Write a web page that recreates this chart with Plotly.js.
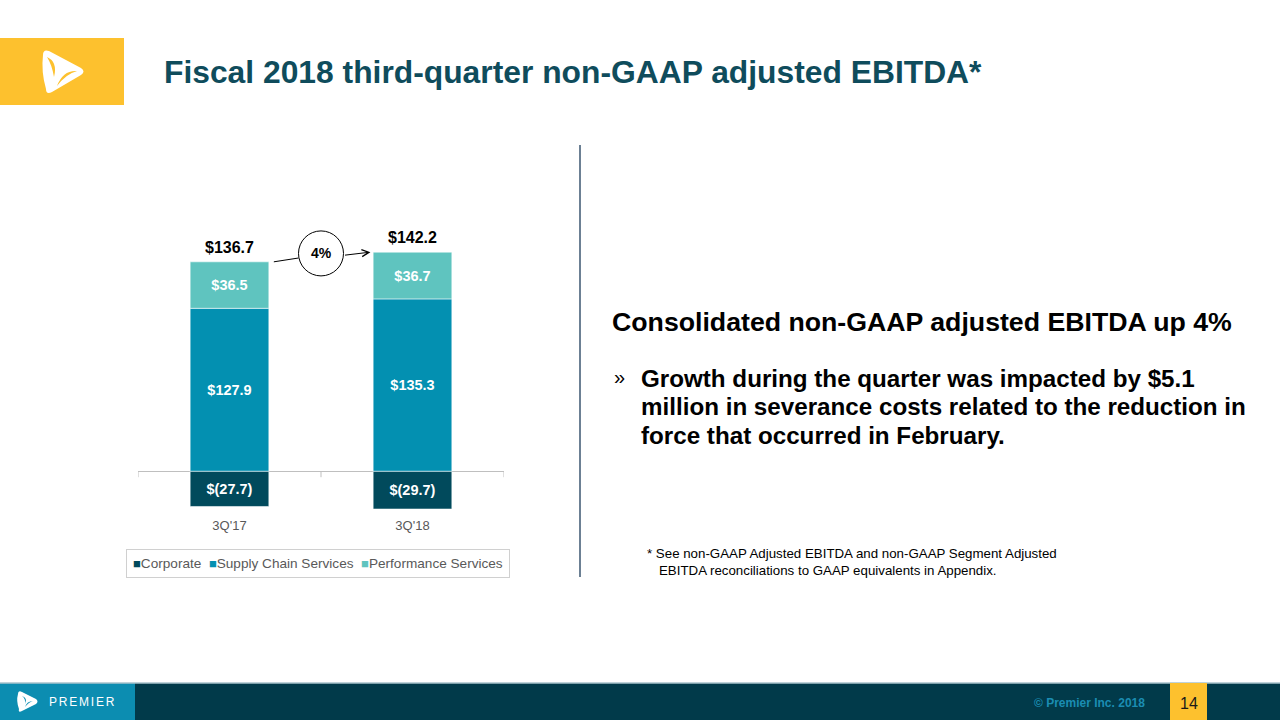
<!DOCTYPE html>
<html><head><meta charset="utf-8">
<script src="https://cdn.plot.ly/plotly-3.0.1.min.js"></script>
<style>html,body{margin:0;padding:0;background:#fff}#chart{width:1280px;height:720px}</style>
</head><body><div id="chart"></div>
<script>
// ---- data ----
const categories = ["3Q'17", "3Q'18"];
const seriesNames = ["Corporate", "Supply Chain Services", "Performance Services"];
const corporate = [-27.7, -29.7];
const supplyChain = [127.9, 135.3];
const performance = [36.5, 36.7];
const totals = [136.7, 142.2];
const growthLabel = "4%";
const seriesColors = ["#014a5c", "#0390b1", "#5fc4bf"];

// ---- helpers ----
const W = 1280, H = 720;
const X = px => px / W;
const Y = py => 1 - py / H;
const FONT = "Liberation Sans, Arial, sans-serif";
const fmt = v => v < 0 ? "$(" + Math.abs(v).toFixed(1) + ")" : "$" + v.toFixed(1);

const yRange = [-32, 200];
const pxPerUnit = 1.2736, zeroPx = 471.2;
const plotLeft = 138, plotRight = 504;
const plotTop = zeroPx - yRange[1] * pxPerUnit;
const plotBottom = zeroPx - yRange[0] * pxPerUnit;
const barWidth = 0.43;
const pxPerCat = (plotRight - plotLeft) / 2;
const rPx = 22.5;

const seriesValues = [corporate, supplyChain, performance];
const traces = seriesValues.map((vals, i) => ({
  type: "bar",
  x: categories,
  y: vals,
  name: seriesNames[i],
  width: barWidth,
  marker: { color: seriesColors[i], line: { color: "rgba(255,255,255,0.55)", width: 1 } },
  text: vals.map(fmt),
  textposition: "inside",
  insidetextanchor: "middle",
  textangle: 0,
  textfont: { color: "#ffffff", size: 14.5, family: FONT, weight: "bold" },
  hoverinfo: "skip",
  showlegend: false
}));

const stackTop = categories.map((c, i) => supplyChain[i] + performance[i]);

const shapes = [];
// category boundary ticks
[-0.5, 0.5, 1.5].forEach(b => shapes.push({
  type: "line", xref: "x", yref: "y", x0: b, x1: b,
  ysizemode: "pixel", yanchor: 0, y0: 0, y1: -6,
  line: { color: "#bfbfbf", width: 1 }
}));
// growth circle
shapes.push({
  type: "circle", xref: "x", yref: "y",
  xsizemode: "pixel", xanchor: 0.5, x0: -rPx, x1: rPx,
  ysizemode: "pixel", yanchor: stackTop[1] - 1, y0: -rPx, y1: rPx,
  line: { color: "#000000", width: 1 }, fillcolor: "rgba(255,255,255,0)"
});
// connector line from 3Q'17 top to circle
shapes.push({
  type: "line", xref: "x", yref: "y",
  x0: barWidth / 2 + 5 / pxPerCat, y0: stackTop[0],
  x1: 0.5 - rPx / pxPerCat, y1: stackTop[0] + 3,
  line: { color: "#000000", width: 1 }
});
// divider
shapes.push({ type: "line", xref: "paper", yref: "paper", x0: X(580), x1: X(580), y0: Y(145), y1: Y(577),
  line: { color: "#3b5670", width: 1.5 } });
// header logo box
shapes.push({ type: "rect", xref: "paper", yref: "paper", x0: X(0), x1: X(124), y0: Y(105), y1: Y(38),
  fillcolor: "#fdc12e", line: { width: 0 } });
const P = (pts) => pts.map(s => s.replace(/(-?\d+\.?\d*),(-?\d+\.?\d*)/g, (m, a, b) => X(+a).toFixed(5) + "," + Y(+b).toFixed(5))).join(" ");
shapes.push({ type: "path", xref: "paper", yref: "paper", fillcolor: "#ffffff", line: { width: 0 },
  path: P(["M 43,55", "Q 43,49 49,51", "L 81,68", "Q 86,71.5 81,75", "L 52,92", "Q 46,95 46,89", "Q 41,72 43,55", "Z"]) });
shapes.push({ type: "path", xref: "paper", yref: "paper", fillcolor: "#fdc12e", line: { width: 0 },
  path: P(["M 47,57", "Q 58,62 54,77", "Q 52,65 47,57", "Z"]) });
shapes.push({ type: "path", xref: "paper", yref: "paper", fillcolor: "#fdc12e", line: { width: 0 },
  path: P(["M 77,71", "Q 63,70 57,86", "Q 66,74 77,71", "Z"]) });
// footer
shapes.push({ type: "rect", xref: "paper", yref: "paper", x0: 0, x1: 1, y0: 0, y1: Y(683),
  fillcolor: "#013a4a", line: { width: 0 } });
shapes.push({ type: "rect", xref: "paper", yref: "paper", x0: 0, x1: X(135), y0: 0, y1: Y(683),
  fillcolor: "#0c8db1", line: { width: 0 } });
shapes.push({ type: "line", xref: "paper", yref: "paper", x0: 0, x1: 1, y0: Y(683), y1: Y(683),
  line: { color: "#a9c3cc", width: 1.5 } });
shapes.push({ type: "rect", xref: "paper", yref: "paper", x0: X(1170), x1: X(1207), y0: 0, y1: Y(683),
  fillcolor: "#fdc12e", line: { width: 0 } });
shapes.push({ type: "path", xref: "paper", yref: "paper", fillcolor: "#ffffff", line: { width: 0 },
  path: P(["M 18,694", "Q 18,690 22,692", "L 36,699", "Q 39,701.5 36,704", "L 22,711", "Q 18,713 19,709", "Q 16,701 18,694", "Z"]) });
shapes.push({ type: "path", xref: "paper", yref: "paper", fillcolor: "#0c8db1", line: { width: 0 },
  path: P(["M 22,696", "Q 28,698 25,704", "Q 26,699 22,696", "Z", "M 33,701", "Q 27,701 25,707", "Q 29,702 33,701", "Z"]) });

const annotations = [];
// totals
categories.forEach((c, i) => annotations.push({
  x: c, y: stackTop[i], xref: "x", yref: "y", yanchor: "bottom", yshift: 4,
  text: "<b>" + fmt(totals[i]) + "</b>", showarrow: false,
  font: { family: FONT, size: 16, color: "#000000" }
}));
// growth label
annotations.push({ x: 0.5, y: stackTop[1] - 1, xref: "x", yref: "y", text: "<b>" + growthLabel + "</b>",
  showarrow: false, font: { family: FONT, size: 14, color: "#000000" } });
// arrow to 3Q'18
annotations.push({ x: 1 - barWidth / 2 - 0.015, y: stackTop[1], xref: "x", yref: "y",
  ax: 0.5 + rPx / pxPerCat, ay: stackTop[1] - 2.5, axref: "x", ayref: "y", text: "",
  showarrow: true, arrowhead: 5, arrowsize: 1.4, arrowwidth: 1, arrowcolor: "#000000" });
// legend (built from series arrays)
const legendText = seriesNames.map((n, i) =>
  '<span style="color:' + seriesColors[i] + ';font-size:13px">■</span>' + n).join("  ");
annotations.push({ x: X(318), y: Y(563.5), xref: "paper", yref: "paper", xanchor: "center", yanchor: "middle",
  text: legendText, showarrow: false, bordercolor: "#d0d0d0", borderwidth: 1, borderpad: 6,
  font: { family: FONT, size: 13.6, color: "#595959" } });
// title
annotations.push({ x: X(162), y: Y(72), xref: "paper", yref: "paper", xanchor: "left", yanchor: "middle",
  text: "<b>Fiscal 2018 third-quarter non-GAAP adjusted EBITDA*</b>", showarrow: false,
  font: { family: FONT, size: 31.8, color: "#0f4c5c" } });
// right text
annotations.push({ x: X(610), y: Y(322), xref: "paper", yref: "paper", xanchor: "left", yanchor: "middle",
  text: "<b>Consolidated non-GAAP adjusted EBITDA up 4%</b>", showarrow: false,
  font: { family: FONT, size: 26.7, color: "#000000" } });
annotations.push({ x: X(612), y: Y(377), xref: "paper", yref: "paper", xanchor: "left", yanchor: "middle",
  text: "»", showarrow: false, font: { family: FONT, size: 20, color: "#000000" } });
const bulletLines = ["Growth during the quarter was impacted by $5.1",
  "million in severance costs related to the reduction in",
  "force that occurred in February."];
bulletLines.forEach((t, k) => annotations.push({ x: X(639), y: Y(378 + k * 28.6), xref: "paper", yref: "paper",
  xanchor: "left", yanchor: "middle", text: "<b>" + t + "</b>", showarrow: false,
  font: { family: FONT, size: 24.2, color: "#000000" } }));
annotations.push({ x: X(645), y: Y(553), xref: "paper", yref: "paper", xanchor: "left", yanchor: "middle",
  text: "* See non-GAAP Adjusted EBITDA and non-GAAP Segment Adjusted", showarrow: false,
  font: { family: FONT, size: 13.3, color: "#000000" } });
annotations.push({ x: X(657), y: Y(570), xref: "paper", yref: "paper", xanchor: "left", yanchor: "middle",
  text: "EBITDA reconciliations to GAAP equivalents in Appendix.", showarrow: false,
  font: { family: FONT, size: 13.3, color: "#000000" } });
// footer text
annotations.push({ x: X(47), y: Y(702), xref: "paper", yref: "paper", xanchor: "left", yanchor: "middle",
  text: '<span style="letter-spacing:1.8px">PREMIER</span>', showarrow: false,
  font: { family: FONT, size: 12, color: "#ffffff" } });
annotations.push({ x: X(1147), y: Y(703), xref: "paper", yref: "paper", xanchor: "right", yanchor: "middle",
  text: "<b>© Premier Inc. 2018</b>", showarrow: false, font: { family: FONT, size: 12, color: "#1b8db2" } });
annotations.push({ x: X(1188.5), y: Y(703), xref: "paper", yref: "paper", xanchor: "center", yanchor: "middle",
  text: "14", showarrow: false, font: { family: FONT, size: 16, color: "#1a1a1a" } });

const layout = {
  width: W, height: H,
  margin: { l: 0, r: 0, t: 0, b: 0 },
  paper_bgcolor: "#ffffff", plot_bgcolor: "rgba(0,0,0,0)",
  barmode: "relative",
  showlegend: false,
  xaxis: { domain: [X(plotLeft), X(plotRight)], type: "category", range: [-0.5, 1.5],
    showline: false, showgrid: false, ticks: "", fixedrange: true, automargin: false,
    ticklabelstandoff: 4,
    tickfont: { family: FONT, size: 13, color: "#595959" } },
  yaxis: { domain: [Y(plotBottom), Y(plotTop)], range: yRange, showticklabels: false, showgrid: false,
    zeroline: true, zerolinecolor: "#bfbfbf", zerolinewidth: 1, fixedrange: true, automargin: false },
  shapes: shapes,
  annotations: annotations,
  font: { family: FONT }
};

Plotly.newPlot("chart", traces, layout, { displayModeBar: false, staticPlot: true });
</script>
</body></html>
